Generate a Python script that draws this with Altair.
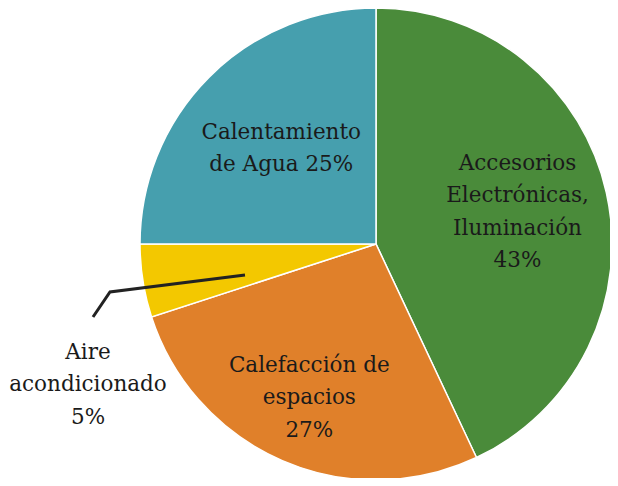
import altair as alt
import pandas as pd

categories = ["Accesorios Electrónicas, Iluminación", "Calefacción de espacios",
              "Aire acondicionado", "Calentamiento de Agua"]
values = [43, 27, 5, 25]
colors = ["#4a8b3a", "#e0802a", "#f3c800", "#469fae"]
labels = ["Accesorios\nElectrónicas,\nIluminación\n43%",
          "Calefacción de\nespacios\n27%",
          "",
          "Calentamiento\nde Agua 25%"]
label_r = [145, 168, 0, 134]

CX, CY, R = 368, 236, 236
FONT, FS, LH = "DejaVu Serif", 21.5, 32.5

df = pd.DataFrame({"cat": categories, "value": values, "idx": range(4),
                   "label": labels, "lr": label_r})

pie = alt.Chart(df).mark_arc(radius=R, stroke="white", strokeWidth=1.5).encode(
    theta=alt.Theta("value:Q", stack=True),
    order=alt.Order("idx:Q"),
    x=alt.value(CX), y=alt.value(CY),
    color=alt.Color("cat:N", scale=alt.Scale(domain=categories, range=colors), legend=None),
)

text = alt.Chart(df).transform_joinaggregate(
    total="sum(value)"
).transform_window(
    cum="sum(value)", sort=[alt.SortField("idx")], frame=[None, 0]
).transform_calculate(
    mid="(datum.cum - datum.value/2) / datum.total * 2 * PI",
    nl="length(split(datum.label, '\\n'))",
).transform_calculate(
    tx=f"{CX} + datum.lr * sin(datum.mid)",
    ty=f"{CY} - datum.lr * cos(datum.mid) - (datum.nl - 1) * {LH} / 2",
).mark_text(font=FONT, fontSize=FS, lineHeight=LH, lineBreak="\n",
            color="#1a1a1a", align="center", baseline="middle").encode(
    x=alt.X("tx:Q", scale=None), y=alt.Y("ty:Q", scale=None),
    text="label:N",
)

# leader line for small slice
leader = pd.DataFrame({"x": [237, 102, 85], "y": [267, 284, 309], "o": [0, 1, 2]})
line = alt.Chart(leader).mark_line(color="#222222", strokeWidth=3).encode(
    x=alt.X("x:Q", scale=None), y=alt.Y("y:Q", scale=None), order="o:Q"
)

aire = pd.DataFrame({"t": ["Aire\nacondicionado\n5%"], "x": [80], "y": [377 - LH]})
aire_text = alt.Chart(aire).mark_text(font=FONT, fontSize=FS, lineHeight=LH,
                                      lineBreak="\n", color="#1a1a1a", align="center",
                                      baseline="middle").encode(
    x=alt.X("x:Q", scale=None), y=alt.Y("y:Q", scale=None), text="t:N"
)

chart = alt.layer(pie, text, line, aire_text).properties(
    width=602, height=470,
    padding=0,
    autosize=alt.AutoSizeParams(type="none"),
).configure_view(stroke=None)

chart.save("out.html", embed_options={"renderer": "svg", "actions": False})
